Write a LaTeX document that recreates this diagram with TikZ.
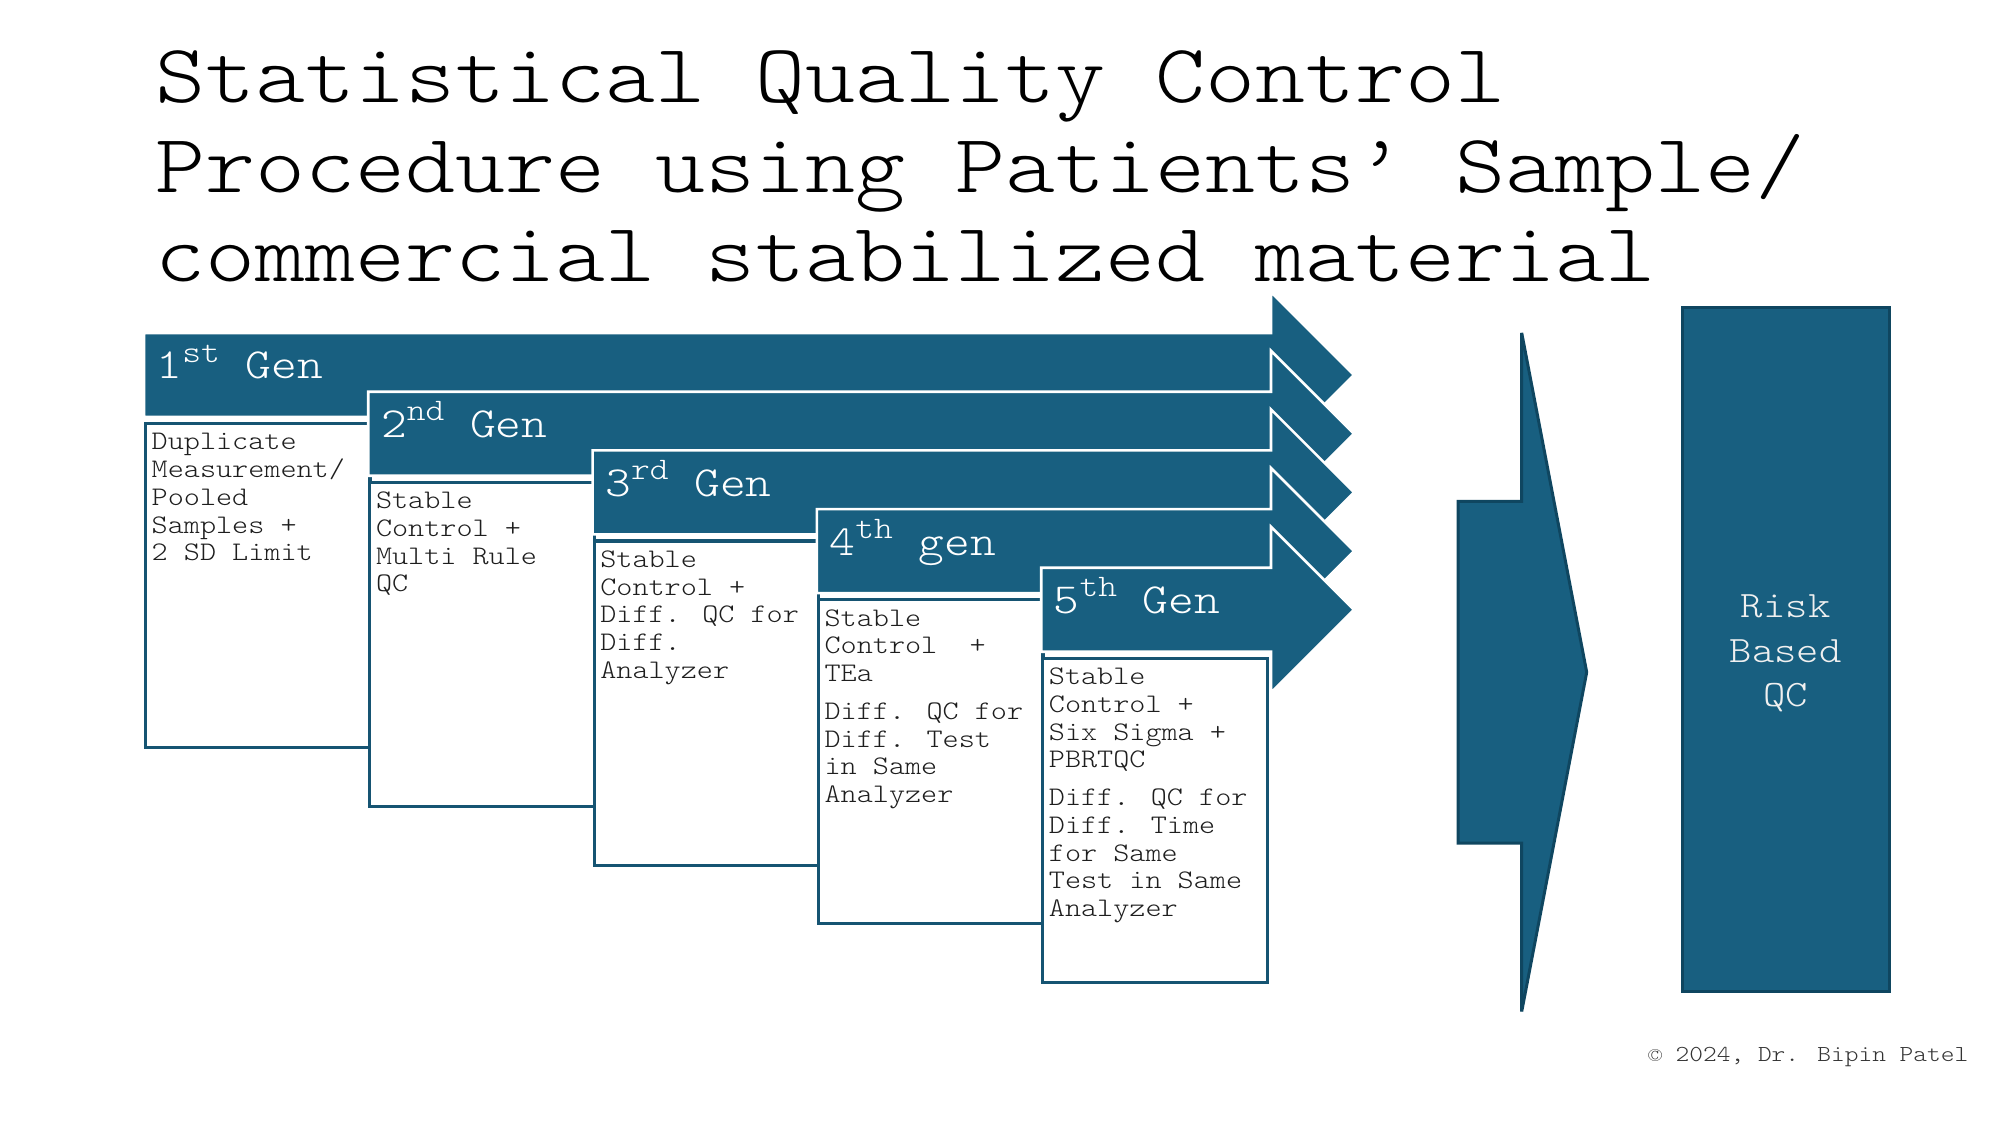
\documentclass[tikz,border=0pt]{standalone}
\usepackage{fontspec}
\setmainfont[Extension=.otf, FakeStretch=1.1429]{lmmonolt10-regular}
\definecolor{qblue}{RGB}{24,95,128}
\definecolor{qedge}{RGB}{22,84,114}
\definecolor{qdark}{RGB}{15,70,96}
\definecolor{qtext}{RGB}{30,30,30}
\newcommand{\supx}[1]{\raisebox{4.8pt}{\fontsize{8.9}{9}\selectfont #1}}
\begin{document}
\begin{tikzpicture}[x=0.01cm,y=-0.01cm,
  genarrow/.style={fill=qblue, draw=white, line width=0.75pt, line join=miter},
  genbox/.style={fill=white, draw=qedge, line width=0.9pt, inner sep=0pt,
    minimum width=2.243cm, minimum height=3.24cm, anchor=north west},
  genlabel/.style={anchor=base west, inner sep=0pt, text=white,
    font=\fontsize{12.2}{14}\selectfont},
  bodytxt/.style={anchor=base west, inner sep=0pt, text=qtext,
    font=\fontsize{7.63}{7.88}\selectfont},
  titletxt/.style={anchor=base west, inner sep=0pt, text=black,
    font=\fontsize{23.7}{25.3}\selectfont},
  chev/.style={fill=qblue, draw=qdark, line width=0.85pt, line join=miter},
  riskbox/.style={fill=qblue, draw=qdark, line width=0.85pt, inner sep=0pt,
    minimum width=2.066cm, minimum height=6.836cm},
  risktxt/.style={align=center, inner sep=0pt,
    text=white!94!black, font=\fontsize{10.6}{12.7}\selectfont},
  copytxt/.style={anchor=base east, inner sep=0pt, text=black!80,
    font=\fontsize{6.5}{8}\selectfont}
]
\useasboundingbox (0,0) rectangle (2000,1125);

% Title
\node[titletxt] (title1) at (155,103) {Statistical Quality Control};
\node[titletxt] (title2) at (155,192.5) {Procedure using Patients’ Sample/};
\node[titletxt] (title3) at (155,281.5) {commercial stabilized material};

% 1st generation
\draw[genarrow] (144,333) -- (1271,333) -- (1271,292) -- (1354,375) -- (1271,458) -- (1271,417) -- (144,417) -- cycle;
\node[genlabel] (gen1) at (156,379) {1\supx{st} Gen};
\node[genbox] (box1) at (144,422) {};
\node[bodytxt] (txt1) at (151,450) {\parbox[t]{2.15cm}{\raggedright
  Duplicate\\Measurement/\\Pooled\\Samples +\\2 SD Limit}};

% 2nd generation
\draw[genarrow] (368.3,391.7) -- (1271,391.7) -- (1271,350.7) -- (1354,433.7) -- (1271,516.7) -- (1271,475.7) -- (368.3,475.7) -- cycle;
\node[genlabel] (gen2) at (380.3,437.7) {2\supx{nd} Gen};
\node[genbox] (box2) at (368.3,480.7) {};
\node[bodytxt] (txt2) at (375.3,508.7) {\parbox[t]{2.15cm}{\raggedright
  Stable\\Control +\\Multi Rule\\QC}};

% 3rd generation
\draw[genarrow] (592.6,450.4) -- (1271,450.4) -- (1271,409.4) -- (1354,492.4) -- (1271,575.4) -- (1271,534.4) -- (592.6,534.4) -- cycle;
\node[genlabel] (gen3) at (604.6,496.4) {3\supx{rd} Gen};
\node[genbox] (box3) at (592.6,539.4) {};
\node[bodytxt] (txt3) at (599.6,567.4) {\parbox[t]{2.15cm}{\raggedright
  Stable\\Control +\\Diff. QC for\\Diff.\\Analyzer}};

% 4th generation
\draw[genarrow] (816.9,509.1) -- (1271,509.1) -- (1271,468.1) -- (1354,551.1) -- (1271,634.1) -- (1271,593.1) -- (816.9,593.1) -- cycle;
\node[genlabel] (gen4) at (828.9,555.1) {4\supx{th} gen};
\node[genbox] (box4) at (816.9,598.1) {};
\node[bodytxt] (txt4) at (823.9,626.1) {\parbox[t]{2.15cm}{\raggedright
  Stable\\Control~~+\\TEa\\[2.9pt]Diff. QC for\\Diff. Test\\in Same\\Analyzer}};

% 5th generation
\draw[genarrow] (1041.2,567.8) -- (1271,567.8) -- (1271,526.8) -- (1354,609.8) -- (1271,692.8) -- (1271,651.8) -- (1041.2,651.8) -- cycle;
\node[genlabel] (gen5) at (1053.2,613.8) {5\supx{th} Gen};
\node[genbox] (box5) at (1041.2,656.8) {};
\node[bodytxt] (txt5) at (1048.2,684.8) {\parbox[t]{2.15cm}{\raggedright
  Stable\\Control +\\Six Sigma +\\PBRTQC\\[2.9pt]Diff. QC for\\Diff. Time\\for Same\\Test in Same\\Analyzer}};

% Big chevron
\draw[chev] (1458,501.3) -- (1521.7,501.3) -- (1521.7,332.9) -- (1586.7,672.2) -- (1521.7,1011.5) -- (1521.7,843.1) -- (1458,843.1) -- cycle;

% Risk based QC
\node[riskbox] (risk) at (1785.7,649.2) {};
\node[risktxt] (risklabel) at (1785.7,653.5) {Risk\\Based\\QC};

% Copyright
\node[copytxt] (copy) at (1969,1061) {© 2024, Dr. Bipin Patel};
\end{tikzpicture}
\end{document}
